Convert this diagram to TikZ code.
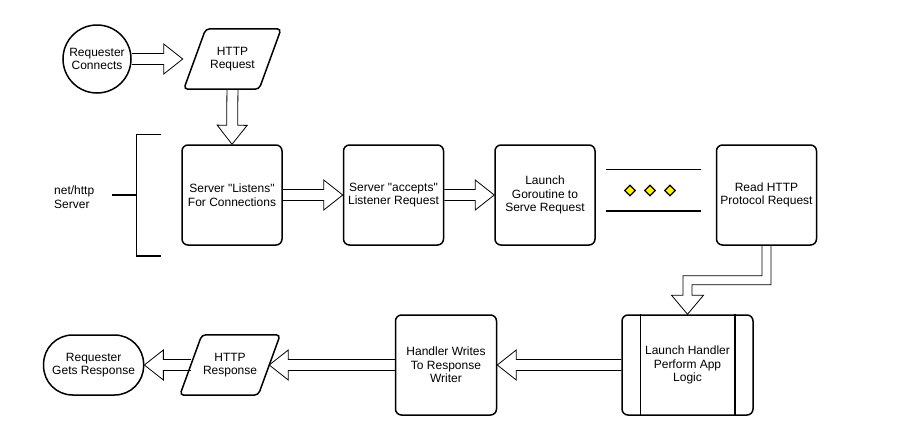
\documentclass[tikz,border=0pt]{standalone}
\usepackage{fontspec}
\setmainfont{Liberation Sans}[Ligatures=TeXOff]
\usetikzlibrary{calc, positioning, shapes.geometric}

% hollow block arrow from #1 to #2
\newcommand{\flowarrow}[2]{%
  \draw[hollow] ($(#1)!5.5pt!90:(#2)$) -- ($(#2)!19pt!(#1)!5.5pt!-90:(#1)$)
    -- ($(#2)!19pt!(#1)!15pt!-90:(#1)$) -- (#2)
    -- ($(#2)!19pt!(#1)!15pt!90:(#1)$) -- ($(#2)!19pt!(#1)!5.5pt!90:(#1)$)
    -- ($(#1)!5.5pt!-90:(#2)$);}

\begin{document}
\begin{tikzpicture}[
    x=1pt, y=-1pt,
    font=\fontsize{12}{13.5}\selectfont,
    procbox/.style={rectangle, draw, line width=1.5pt, rounded corners=6pt, minimum width=100pt, minimum height=100pt, align=center, inner sep=1pt},
    terminal/.style={circle, draw, line width=1.5pt, minimum size=68pt, align=center, inner sep=0pt},
    capsule/.style={rectangle, draw, line width=1.5pt, rounded corners=29pt, minimum width=100pt, minimum height=60pt, align=center},
    iobox/.style={minimum height=60pt, align=center, inner sep=0pt},
    slant/.style={draw, line width=1.5pt, rounded corners=4pt},
    hollow/.style={draw, line width=0.8pt, line join=miter},
    bracket/.style={line width=1.5pt},
    gapline/.style={line width=1.5pt},
    gem/.style={diamond, draw, line width=1.2pt, fill=yellow, minimum width=11pt, minimum height=11pt, inner sep=0pt}
]
    \useasboundingbox (0,0) rectangle (919,434);

    % requester and request
    \node[terminal] (conn) at (97,59) {Requester\\Connects};
    \node[iobox, minimum width=75pt, right=63pt of conn] (req) {HTTP\\Request};
    \draw[slant] ($(req.north west)+(11,0)$) -- ($(req.north east)+(11,0)$) -- ($(req.south east)+(-11,0)$) -- ($(req.south west)+(-11,0)$) -- cycle;
    \coordinate (req in) at ($(req.west)+(-12,0)$);

    % server row
    \node[procbox] (listen) at (232,195) {Server "Listens"\\For Connections};
    \node[procbox, right=60pt of listen] (accept) {Server "accepts"\\Listener Request};
    \node[procbox, right=50pt of accept] (launch) {Launch\\Goroutine to\\Serve Request};
    \node[procbox, right=120pt of launch] (readreq) {Read HTTP\\Protocol Request};

    % gap between goroutine and read
    \draw[gapline] ($(launch.north east)+(10,25)$) -- ($(readreq.north west)+(-15,25)$);
    \draw[gapline] ($(launch.south east)+(10,-35)$) -- ($(readreq.south west)+(-15,-35)$);
    \foreach \x [count=\i] in {630,650,670}
        \node[gem] (gem\i) at (\x,190.5) {};

    % net/http bracket
    \node[align=left, anchor=west, inner sep=0pt] (server) at (54,197) {net/http\\Server};
    \draw[bracket] ($(listen.north west)+(-20,-10)$) -- ($(listen.north west)+(-45,-10)$) -- ($(listen.south west)+(-45,10)$) -- ($(listen.south west)+(-20,10)$);
    \draw[bracket] ($(listen.west)+(-45,0)$) -- ($(listen.west)+(-69,0)$);

    % response row
    \node[procbox, minimum width=131pt] (handler) at (687.5,365) {Launch Handler\\Perform App\\Logic};
    \draw[line width=1.5pt] ($(handler.north west)+(19,0)$) -- ($(handler.south west)+(19,0)$);
    \draw[line width=1.5pt] ($(handler.north east)+(-19,0)$) -- ($(handler.south east)+(-19,0)$);
    \node[procbox, minimum width=101pt, left=124pt of handler] (writes) {Handler Writes\\To Response\\Writer};
    \node[iobox, minimum width=78pt, left=125.5pt of writes] (resp) {HTTP\\Response};
    \draw[slant] ($(resp.north west)+(11,0)$) -- ($(resp.north east)+(11,0)$) -- ($(resp.south east)+(-11,0)$) -- ($(resp.south west)+(-11,0)$) -- cycle;
    \node[capsule, left=46.5pt of resp] (gets) {Requester\\Gets Response};

    % arrows
    \flowarrow{conn.east}{req in}
    \flowarrow{req.south}{listen.north}
    \flowarrow{listen.east}{accept.west}
    \flowarrow{accept.east}{launch.west}
    \coordinate (elbow) at ($(readreq.south)+(0,34.5)$);
    \draw[hollow] ($(readreq.south)+(4.5,0)$) -- ($(elbow)+(4.5,4.5)$) -- ($(handler.north |- elbow)+(4.5,4.5)$)
        -- ($(handler.north)+(4.5,-19)$) -- ($(handler.north)+(16,-19)$) -- (handler.north)
        -- ($(handler.north)+(-16,-19)$) -- ($(handler.north)+(-4.5,-19)$)
        -- ($(handler.north |- elbow)+(-4.5,-4.5)$) -- ($(elbow)+(-4.5,-4.5)$) -- ($(readreq.south)+(-4.5,0)$);
    \flowarrow{handler.west}{writes.east}
    \flowarrow{writes.west}{resp.east}
    \flowarrow{resp.west}{gets.east}
\end{tikzpicture}
\end{document}
